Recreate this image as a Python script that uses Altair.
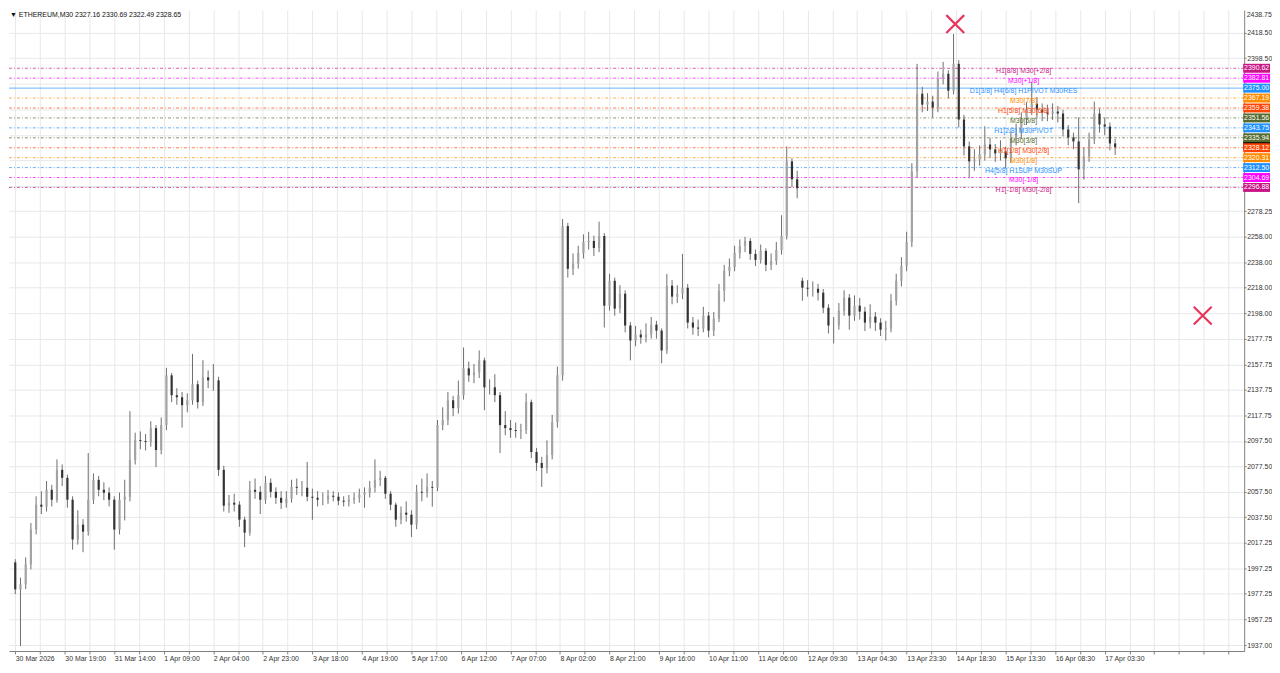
import altair as alt
import pandas as pd

FONT = "Liberation Sans"

title_text = "\u25bc ETHEREUM,M30  2327.16 2330.69 2322.49 2328.65"

x_labels = ["30 Mar 2026", "30 Mar 19:00", "31 Mar 14:00", "1 Apr 09:00", "2 Apr 04:00",
            "2 Apr 23:00", "3 Apr 18:00", "4 Apr 19:00", "5 Apr 17:00", "6 Apr 12:00",
            "7 Apr 07:00", "8 Apr 02:00", "8 Apr 21:00", "9 Apr 16:00", "10 Apr 11:00",
            "11 Apr 06:00", "12 Apr 09:30", "13 Apr 04:30", "13 Apr 23:30", "14 Apr 18:30",
            "15 Apr 13:30", "16 Apr 08:30", "17 Apr 03:30"]

y_ticks = [2418.50, 2398.50, 2378.25, 2358.25, 2338.00, 2318.00, 2298.00,
           2278.25, 2258.00, 2238.00, 2218.00, 2198.00, 2177.75, 2157.75, 2137.75,
           2117.75, 2097.50, 2077.50, 2057.50, 2037.50, 2017.25, 1997.25, 1977.25,
           1957.25, 1937.00]
top_label = ["2438.75"]

first_open = 2002.0
gap_opens = {151: 2223.5}

close = [
    1980.8, 1984.8, 2000.4, 2027.8, 2047.4, 2045.8, 2059.1, 2051.3, 2074.8, 2068.5,
    2051.3, 2020.0, 2031.7, 2026.2, 2051.3, 2066.9, 2059.1, 2056.8, 2051.3, 2027.8,
    2051.3, 2053.6, 2082.6, 2098.2, 2097.5, 2096.7, 2107.6, 2090.4, 2110.0, 2149.1,
    2133.5, 2131.9, 2125.6, 2129.5, 2142.1, 2128.0, 2147.5, 2145.2, 2145.2, 2074.8,
    2046.6, 2048.9, 2047.4, 2035.6, 2025.4, 2059.1, 2057.5, 2051.3, 2064.6, 2057.5,
    2052.8, 2048.9, 2052.1, 2061.4, 2060.7, 2060.7, 2053.6, 2052.8, 2051.3, 2051.3,
    2054.4, 2053.6, 2050.5, 2049.7, 2051.3, 2052.8, 2055.2, 2056.8, 2060.7, 2066.9,
    2068.5, 2056.0, 2047.4, 2035.6, 2041.1, 2039.5, 2031.7, 2057.5, 2056.8, 2061.4,
    2060.7, 2110.0, 2113.9, 2129.5, 2123.3, 2133.5, 2154.6, 2149.1, 2151.5, 2160.9,
    2139.7, 2139.7, 2133.5, 2110.0, 2107.6, 2106.1, 2105.3, 2106.1, 2128.0, 2088.8,
    2080.2, 2076.3, 2086.5, 2112.3, 2149.1, 2266.5, 2232.9, 2236.8, 2245.4, 2254.0,
    2254.8, 2249.3, 2258.7, 2203.9, 2223.5, 2201.6, 2213.3, 2188.3, 2176.5, 2181.2,
    2178.9, 2181.2, 2189.0, 2184.3, 2168.7, 2219.6, 2211.0, 2213.3, 2218.0, 2190.6,
    2186.7, 2185.9, 2196.1, 2184.3, 2193.7, 2215.6, 2231.3, 2234.4, 2245.4, 2250.9,
    2254.8, 2244.6, 2239.9, 2247.0, 2236.0, 2239.1, 2247.7, 2258.7, 2317.4, 2303.3,
    2296.3, 2218.0, 2217.2, 2217.2, 2214.1, 2202.3, 2188.3, 2188.3, 2200.0, 2210.2,
    2196.1, 2203.9, 2199.2, 2190.6, 2195.3, 2190.6, 2185.1, 2185.9, 2207.8, 2223.5,
    2235.2, 2254.0, 2309.6, 2370.6, 2362.0, 2364.4, 2359.7, 2382.4, 2386.3, 2373.0,
    2394.1, 2350.3, 2329.2, 2317.4, 2319.0, 2322.9, 2330.7, 2326.8, 2323.7, 2325.2,
    2319.8, 2335.4, 2339.3, 2350.3, 2358.9, 2362.8, 2358.1, 2355.8, 2355.0, 2356.6,
    2355.0, 2342.5, 2336.2, 2333.1, 2311.1, 2321.3, 2334.6, 2355.0, 2346.4, 2344.8,
    2331.5, 2328.65]

high = [
    2004.5, 1990.0, 2006.0, 2033.0, 2054.0, 2058.0, 2066.0, 2063.0, 2083.0, 2079.0,
    2071.0, 2054.0, 2043.0, 2036.0, 2088.0, 2072.0, 2070.0, 2065.0, 2061.0, 2054.0,
    2057.0, 2067.0, 2121.0, 2104.0, 2105.0, 2103.0, 2113.0, 2110.0, 2116.0, 2155.0,
    2151.0, 2139.0, 2136.0, 2135.0, 2166.0, 2145.0, 2161.0, 2153.0, 2158.0, 2148.0,
    2078.0, 2055.0, 2056.0, 2050.0, 2038.0, 2066.0, 2068.0, 2062.0, 2070.0, 2068.0,
    2061.0, 2058.0, 2058.0, 2067.0, 2068.0, 2066.0, 2081.0, 2060.0, 2058.0, 2057.0,
    2059.0, 2058.0, 2057.0, 2054.0, 2055.0, 2057.0, 2060.0, 2061.0, 2066.0, 2083.0,
    2074.0, 2070.0, 2058.0, 2049.0, 2046.0, 2050.0, 2043.0, 2063.0, 2068.0, 2072.0,
    2066.0, 2114.0, 2124.0, 2136.0, 2133.0, 2145.0, 2171.0, 2160.0, 2158.0, 2168.7,
    2163.0, 2146.0, 2150.0, 2136.0, 2121.0, 2114.0, 2112.0, 2111.0, 2135.0, 2130.0,
    2092.0, 2085.0, 2098.0, 2118.0, 2156.0, 2272.0, 2269.0, 2245.0, 2251.0, 2260.0,
    2262.0, 2259.0, 2270.0, 2261.0, 2229.0, 2226.0, 2220.0, 2216.0, 2191.0, 2188.0,
    2185.0, 2190.0, 2195.0, 2192.0, 2186.0, 2228.9, 2224.0, 2220.0, 2244.6, 2221.0,
    2195.0, 2193.0, 2203.0, 2199.0, 2199.0, 2221.0, 2236.0, 2241.0, 2251.0, 2256.0,
    2258.0, 2257.0, 2248.0, 2252.0, 2249.0, 2245.0, 2254.0, 2275.0, 2329.2, 2320.0,
    2310.0, 2226.0, 2224.0, 2223.0, 2221.0, 2217.0, 2205.0, 2195.0, 2206.0, 2216.0,
    2213.0, 2212.0, 2210.0, 2203.0, 2205.0, 2199.0, 2194.0, 2192.0, 2213.0, 2229.0,
    2242.0, 2262.0, 2316.0, 2394.1, 2376.0, 2371.0, 2369.0, 2388.0, 2395.7, 2389.0,
    2417.6, 2397.0, 2354.0, 2333.0, 2327.0, 2330.0, 2345.0, 2336.0, 2331.0, 2334.0,
    2329.0, 2341.0, 2347.0, 2356.0, 2364.0, 2380.0, 2368.0, 2363.0, 2362.0, 2363.0,
    2361.0, 2358.0, 2346.0, 2340.0, 2352.0, 2328.0, 2340.0, 2364.4, 2359.0, 2352.0,
    2348.0, 2335.0]

low = [
    1977.0, 1936.2, 1981.0, 1996.5, 2024.0, 2040.0, 2042.0, 2046.0, 2049.0, 2062.0,
    2045.0, 2012.0, 2016.0, 2010.0, 2023.0, 2048.0, 2054.0, 2051.0, 2046.0, 2012.0,
    2024.0, 2035.0, 2050.0, 2079.0, 2091.0, 2090.0, 2093.0, 2077.0, 2087.0, 2106.0,
    2128.0, 2126.0, 2108.0, 2120.0, 2126.0, 2123.0, 2125.0, 2139.0, 2137.0, 2070.0,
    2042.0, 2041.0, 2042.0, 2030.0, 2014.0, 2023.0, 2052.0, 2040.0, 2048.0, 2053.0,
    2048.0, 2044.0, 2045.0, 2049.0, 2055.0, 2054.0, 2050.0, 2035.5, 2046.0, 2047.0,
    2048.0, 2050.0, 2047.0, 2046.0, 2046.0, 2048.0, 2049.0, 2045.0, 2053.0, 2057.0,
    2062.0, 2052.0, 2043.0, 2030.0, 2032.0, 2034.0, 2022.0, 2028.0, 2050.0, 2053.0,
    2045.8, 2058.0, 2106.0, 2110.0, 2117.0, 2119.0, 2130.0, 2144.0, 2143.0, 2147.0,
    2121.7, 2134.0, 2128.0, 2088.0, 2102.0, 2100.0, 2100.0, 2099.0, 2103.0, 2084.0,
    2074.0, 2061.4, 2072.0, 2083.0, 2108.0, 2145.0, 2226.0, 2228.0, 2233.0, 2241.0,
    2248.0, 2243.0, 2246.0, 2186.7, 2200.0, 2196.0, 2198.0, 2183.0, 2160.9, 2172.0,
    2174.0, 2175.0, 2178.0, 2178.0, 2158.5, 2166.0, 2205.0, 2206.0, 2209.0, 2186.0,
    2181.0, 2180.0, 2183.0, 2179.0, 2180.0, 2191.0, 2207.0, 2227.0, 2231.0, 2241.0,
    2246.0, 2240.0, 2235.0, 2237.0, 2231.0, 2232.0, 2236.0, 2244.0, 2256.0, 2297.0,
    2288.4, 2207.8, 2211.0, 2211.0, 2208.0, 2198.0, 2182.0, 2174.2, 2185.0, 2196.0,
    2185.0, 2192.0, 2193.0, 2184.0, 2186.0, 2184.0, 2180.0, 2176.5, 2183.0, 2204.0,
    2219.0, 2231.0, 2250.0, 2305.0, 2356.0, 2357.0, 2352.0, 2356.0, 2378.0, 2367.0,
    2370.0, 2344.0, 2322.0, 2304.1, 2310.0, 2314.0, 2318.0, 2320.0, 2317.0, 2318.0,
    2312.0, 2316.0, 2330.0, 2335.0, 2346.0, 2354.0, 2352.0, 2349.0, 2349.0, 2350.0,
    2348.0, 2337.0, 2330.0, 2327.0, 2284.5, 2303.0, 2317.0, 2331.0, 2340.0, 2338.0,
    2326.0, 2322.49]

level_prices = [2390.62, 2382.81, 2375.00, 2367.19, 2359.38, 2351.56, 2343.75,
                2335.94, 2328.12, 2320.31, 2312.50, 2304.69, 2296.88]
level_colors = ["#c71585", "#ff00ff", "#1e90ff", "#ff8c00", "#ff4500", "#556b2f", "#1e90ff",
                "#556b2f", "#ff4500", "#ff8c00", "#1e90ff", "#ff00ff", "#c71585"]
level_names = ["H1[8/8] M30[+2/8]", "M30[+1/8]", "D1[3/8] H4[6/8] H1PIVOT M30RES", "M30[7/8]",
               "H1[5/8] M30[6/8]", "M30[5/8]", "H1[2/8] M30PIVOT", "M30[3/8]",
               "H1[1/8] M30[2/8]", "M30[1/8]", "H4[5/8] H1SUP M30SUP", "M30[-1/8]",
               "H1[-1/8] M30[-2/8]"]
level_styles = ["dashdot", "dashdot", "solid", "dashdot", "dashdot", "dashdot", "dashdot",
                "dashdot", "dashdot", "dashdot", "dashdot", "dashdot", "dashdot"]

current_price = [2328.65]
marker_bars = [721.3, 911.2]
marker_prices = [2425.4, 2196.1]

# ---------------- build tables ----------------
opens = [first_open] + close[:-1]
for k, v in gap_opens.items():
    opens[k] = v
bars = [4 * i for i in range(len(close))]
df = pd.DataFrame({"bar": bars, "open": opens, "high": high, "low": low, "close": close})
df_lv = pd.DataFrame({"price": level_prices, "color": level_colors,
                      "name": level_names, "style": level_styles})
df_cur = pd.DataFrame({"price": current_price})
df_mk = pd.DataFrame({"bar": marker_bars, "price": marker_prices})
df_title = pd.DataFrame({"t": [title_text]})
df_top = pd.DataFrame({"t": top_label})

xscale = alt.Scale(domain=[-1, 939.2], nice=False, zero=False)
yscale = alt.Scale(domain=[1932.3, 2436.4], nice=False, zero=False)

js_arr = "[" + ",".join("'" + s + "'" for s in x_labels) + "]"
xaxis = alt.Axis(
    values=list(range(0, 932, 19)),
    labelExpr=f"(datum.value % 38 == 0 && datum.value / 38 < {len(x_labels)}) ? {js_arr}[datum.value / 38] : ''",
    grid=True, gridColor="#e8e8e8", gridWidth=1,
    domainColor="#808080", tickColor="#808080", tickSize=3,
    labelAlign="left", labelBaseline="top", labelPadding=1, labelOverlap=False,
    labelFlush=False, labelFont=FONT, labelFontSize=7, labelColor="#333333",
    title=None,
)
yaxis = alt.Axis(
    orient="right", values=y_ticks,
    labelExpr="(datum.value > 2280 && datum.value < 2390) ? '' : format(datum.value, '.2f')",
    grid=True, gridColor="#e8e8e8", gridWidth=1,
    domainColor="#808080", tickColor="#808080", tickSize=2,
    labelPadding=0.5, labelOverlap=False, labelFlush=False,
    labelFont=FONT, labelFontSize=7, labelColor="#333333",
    title=None,
)


def X(field):
    return alt.X(field, scale=xscale, axis=xaxis, title=None)


def Y(field):
    return alt.Y(field, scale=yscale, axis=yaxis, title=None)


def Y2(field):
    return alt.Y2(field, title=None)


def px(expr):
    return alt.value({"expr": expr})


base = alt.Chart(df)
wick = base.mark_rule(color="#6e6e6e", strokeWidth=1).encode(
    x=X("bar:Q"), y=Y("low:Q"), y2=Y2("high:Q"))
body = base.mark_bar(size=2.2).encode(
    x=X("bar:Q"), y=Y("open:Q"), y2=Y2("close:Q"),
    color=alt.condition("datum.close >= datum.open", alt.value("#a3a3a3"), alt.value("#333333")))

lv = alt.Chart(df_lv)
level_lines = lv.mark_rule(strokeWidth=1, opacity=0.7).encode(
    y=Y("price:Q"),
    color=alt.Color("color:N", scale=None),
    strokeDash=alt.StrokeDash("style:N", scale=alt.Scale(domain=["solid", "dashdot"],
                                                          range=[[1, 0], [3, 2, 1, 2]]),
                              legend=None))
level_text = lv.mark_text(font=FONT, fontSize=7, dy=3, align="center", baseline="middle").encode(
    x=px("width - 222"), y=Y("price:Q"), text="name:N",
    color=alt.Color("color:N", scale=None))

cur_box = alt.Chart(df_cur).mark_rect(color="#000000", yOffset=-6, y2Offset=3).encode(
    x=px("width - 1"), x2=px("width + 26"), y=Y("price:Q"), y2=Y2("price:Q"))
lv_box = lv.mark_rect(yOffset=-4.5, y2Offset=4.5).encode(
    x=px("width - 1"), x2=px("width + 26"), y=Y("price:Q"), y2=Y2("price:Q"),
    color=alt.Color("color:N", scale=None))
lv_val = lv.mark_text(font=FONT, fontSize=7, color="white", align="center", baseline="middle").encode(
    x=px("width + 12.5"), y=Y("price:Q"), text=alt.Text("price:Q", format=".2f"))

markers = alt.Chart(df_mk).mark_point(
    shape="M-1,-1L1,1M-1,1L1,-1", size=324, filled=False, strokeWidth=2.2,
    color="#e8365d", opacity=1).encode(x=X("bar:Q"), y=Y("price:Q"))

title = alt.Chart(df_title).mark_text(font=FONT, fontSize=7, align="left", baseline="top",
                                      color="#111111").encode(
    x=alt.value(1), y=alt.value(0.5), text="t:N")
top_lbl = alt.Chart(df_top).mark_text(font=FONT, fontSize=7, align="left", baseline="top",
                                      color="#333333").encode(
    x=px("width + 2.5"), y=alt.value(0.5), text="t:N")

chart = alt.layer(
    level_lines, wick, body, level_text, cur_box, lv_box, lv_val, markers, title, top_lbl
).properties(
    width=1272, height=656,
    padding=0,
    autosize=alt.AutoSizeParams(type="fit", contains="padding"),
    background="white",
).configure_view(stroke=None)

chart.save("out.html", embed_options={"renderer": "svg", "actions": False})
